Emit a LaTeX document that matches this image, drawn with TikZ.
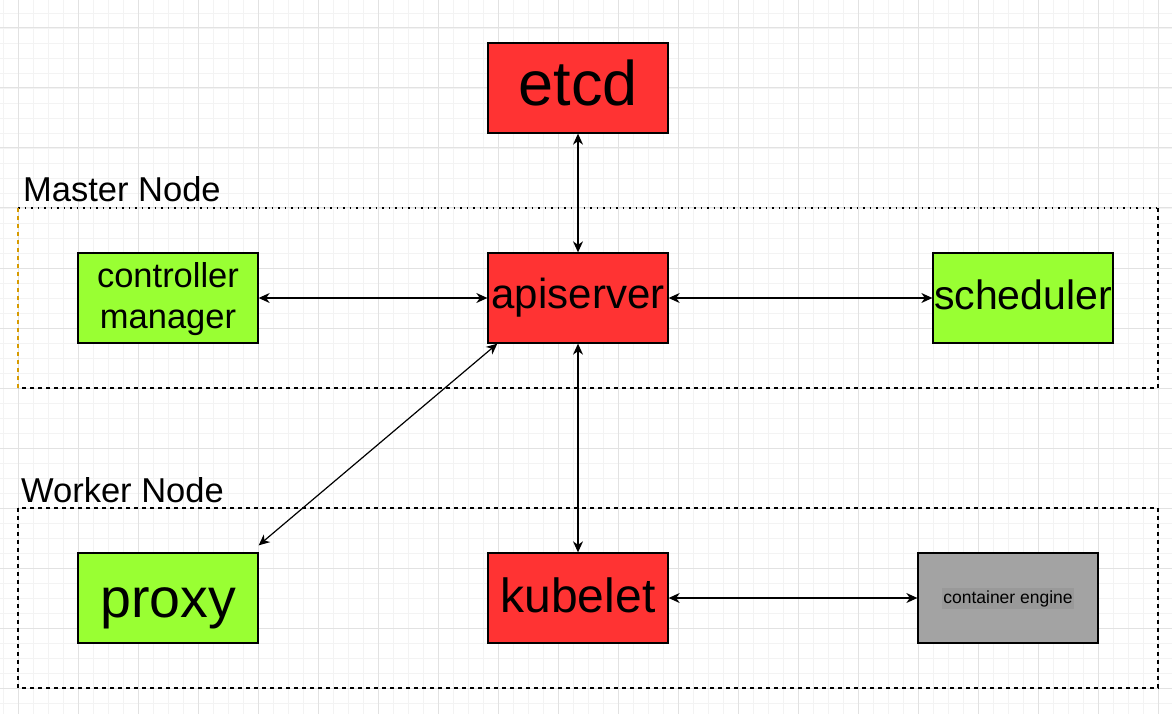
\documentclass[tikz,border=0pt]{standalone}
\usepackage{fontspec}
\setmainfont{Liberation Sans}
\usetikzlibrary{arrows.meta,calc}
\definecolor{kred}{HTML}{FF3333}
\definecolor{kgreen}{HTML}{99FF33}
\definecolor{kgray}{HTML}{A3A3A3}
\definecolor{kgraylab}{HTML}{999999}
\definecolor{gridmajor}{HTML}{E2E2E2}
\definecolor{gridminor}{HTML}{F3F3F3}
\definecolor{korange}{HTML}{D79B00}
\newcommand{\fs}[2]{\fontsize{#1}{#2}\selectfont}
\begin{document}
\begin{tikzpicture}[x=1pt,y=-1pt,
  box/.style={draw=black, line width=1.3pt, minimum width=180pt, minimum height=90pt, inner sep=0pt},
  redbox/.style={box, fill=kred},
  greenbox/.style={box, fill=kgreen},
  graybox/.style={box, fill=kgray},
  txt/.style={anchor=base, inner sep=0pt},
  conn/.style={line width=1.2pt, {Stealth[length=11pt,width=10pt,inset=3.5pt]}-{Stealth[length=11pt,width=10pt,inset=3.5pt]}},
  grouplbl/.style={anchor=base west, inner sep=0pt, font=\fs{34.5}{41}},
  groupline/.style={line width=1.2pt, dash pattern=on 4pt off 4pt}
]
\useasboundingbox (0,0) rectangle (1172,714);
\fill[white] (0,0) rectangle (1172,714);
% grid
\foreach \x in {3,18,...,1172} \draw[gridminor, line width=0.8pt] (\x,0) -- (\x,714);
\foreach \y in {13,28,...,714} \draw[gridminor, line width=0.8pt] (0,\y) -- (1172,\y);
\foreach \x in {18,78,...,1172} \draw[gridmajor, line width=1pt] (\x,0) -- (\x,714);
\foreach \y in {28,88,...,714} \draw[gridmajor, line width=1pt] (0,\y) -- (1172,\y);

% groups
\draw[line width=1.3pt, dash pattern=on 1.5pt off 5pt] (18,208) -- (1158,208);
\draw[groupline] (1158,208) -- (1158,388) -- (18,388);
\draw[groupline, korange] (18,388) -- (18,208);
\draw[groupline] (18,508) rectangle (1158,688);
\node[grouplbl] (mlabel) at (23,202) {Master Node};
\node[grouplbl] (wlabel) at (21,502) {Worker Node};

% nodes
\node[redbox] (etcd) at (578,88) {};
\node[txt, font=\fs{63}{75}] (etcdt) at ($(etcd.center)+(0,18)$) {etcd};
\node[redbox] (api) at (578,298) {};
\node[txt, font=\fs{42}{50}] (apit) at ($(api.center)+(0,10)$) {apiserver};
\node[greenbox] (cm) at (168,298) {};
\node[txt, font=\fs{34.5}{41}] (cmt1) at ($(cm.center)+(0,-11)$) {controller};
\node[txt, font=\fs{34.5}{41}] (cmt2) at ($(cm.center)+(0,30)$) {manager};
\node[greenbox] (sched) at (1023,298) {};
\node[txt, font=\fs{41}{49}] (schedt) at ($(sched.center)+(0,11)$) {scheduler};
\node[greenbox] (proxy) at (168,598) {};
\node[txt, font=\fs{55.5}{66}] (proxyt) at ($(proxy.center)+(0,19)$) {proxy};
\node[redbox] (kubelet) at (578,598) {};
\node[txt, font=\fs{48}{58}] (kubelett) at ($(kubelet.center)+(0,14)$) {kubelet};
\node[graybox] (ce) at (1008,598) {};
\node[fill=kgraylab, anchor=base, inner xsep=1pt, inner ysep=2pt, font=\fs{17.5}{21}] (celabel) at ($(ce.center)+(0,5)$) {container engine};

% connectors
\draw[conn] (etcd.south) -- (api.north);
\draw[conn] (cm.east) -- (api.west);
\draw[conn] (api.east) -- (sched.west);
\draw[conn] (api.south) -- (kubelet.north);
\draw[conn] (kubelet.east) -- (ce.west);
\coordinate (pxend) at ($(proxy.north east)+(0,-7)$);
\coordinate (apiend) at ($(api.south west)+(10,0)$);
\draw[conn] (pxend) -- (apiend);
\end{tikzpicture}
\end{document}
